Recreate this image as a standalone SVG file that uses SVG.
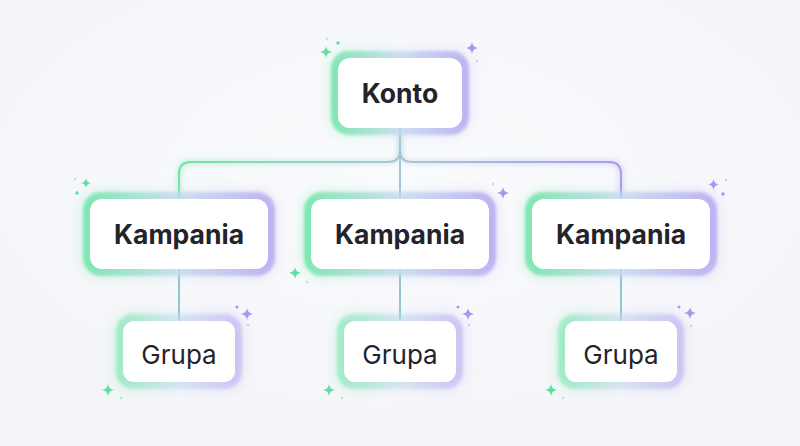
<svg xmlns="http://www.w3.org/2000/svg" width="800" height="446" viewBox="0 0 800 446">
<defs>
<linearGradient id="gb" x1="0" y1="0" x2="1" y2="0">
<stop offset="0" stop-color="#62e3a0"/>
<stop offset="0.5" stop-color="#c4d9ee"/>
<stop offset="1" stop-color="#b0a2f0"/>
</linearGradient>
<linearGradient id="gl" gradientUnits="userSpaceOnUse" x1="179" y1="0" x2="621" y2="0">
<stop offset="0" stop-color="#6fe3a8"/>
<stop offset="0.5" stop-color="#a6c7d6"/>
<stop offset="1" stop-color="#a79bef"/>
</linearGradient>
<radialGradient id="bg" cx="0.5" cy="0.4" r="0.7">
<stop offset="0" stop-color="#fafbfd"/>
<stop offset="1" stop-color="#f3f4f8"/>
</radialGradient>
<filter id="glow" x="-40%" y="-40%" width="180%" height="180%"><feGaussianBlur stdDeviation="7"/></filter>
<filter id="soft" x="-20%" y="-20%" width="140%" height="140%"><feGaussianBlur stdDeviation="1.8"/></filter>
<filter id="lglow" x="-20%" y="-20%" width="140%" height="140%"><feGaussianBlur stdDeviation="2.5"/></filter>
<symbol id="star" viewBox="-5 -5 10 10" overflow="visible">
<path d="M0,-5 Q0.6,-0.6 5,0 Q0.6,0.6 0,5 Q-0.6,0.6 -5,0 Q-0.6,-0.6 0,-5Z"/>
</symbol>
</defs>
<style>
.glow{opacity:0.35}
.band{opacity:0.75}
.box{fill:#ffffff}
.t{font-family:Inter,"Noto Sans","Liberation Sans",sans-serif;fill:#23232b;text-anchor:middle}
.b{font-weight:700;font-size:26.5px}
.r{font-weight:400;font-size:26px}
.ln{fill:none;stroke-width:2;stroke-linecap:round}
.lg{fill:none;stroke-width:5;opacity:0.35}
.sg{fill:#5fe0a0}
.sp{fill:#a598ee}
.fa{opacity:0.45}
</style>
<rect width="800" height="446" fill="url(#bg)"/>

<g id="connectors">
<g filter="url(#lglow)">
<path class="lg" stroke="url(#gl)" d="M400,128 V150 Q400,162 388,162 H191 Q179,162 179,174 V199"/>
<path class="lg" stroke="url(#gl)" d="M400,128 V150 Q400,162 412,162 H609 Q621,162 621,174 V199"/>
</g>
<path class="ln" stroke="url(#gl)" d="M400,128 V150 Q400,162 388,162 H191 Q179,162 179,174 V199"/>
<path class="ln" stroke="url(#gl)" d="M400,128 V150 Q400,162 412,162 H609 Q621,162 621,174 V199"/>
<path class="ln" stroke="#a2c6d3" d="M400,150 V199"/>
<path class="ln" stroke="#92c5cc" d="M179,269 V321 M400,269 V321 M621,269 V321"/>
</g>

<g id="sparkles">
<use href="#star" x="320" y="46" width="12" height="12" class="sg"/>
<circle cx="338" cy="43" r="1.7" class="sg"/>
<circle cx="327" cy="39" r="1.2" class="sg fa"/>
<use href="#star" x="466" y="42" width="12" height="12" class="sp"/>
<circle cx="477" cy="61" r="1.2" class="sp fa"/>
<use href="#star" x="81" y="178" width="10" height="10" class="sg"/>
<circle cx="77" cy="193" r="1.7" class="sg"/>
<circle cx="75" cy="179" r="1.2" class="sg fa"/>
<use href="#star" x="289" y="267" width="12" height="12" class="sg"/>
<circle cx="307" cy="282" r="1.3" class="sg fa"/>
<use href="#star" x="497" y="187" width="12" height="12" class="sp"/>
<circle cx="493" cy="184" r="1.2" class="sp fa"/>
<use href="#star" x="708" y="179" width="11" height="11" class="sp"/>
<circle cx="723" cy="194" r="1.7" class="sp"/>
<circle cx="726" cy="180" r="1.2" class="sp fa"/>
<use href="#star" x="241" y="308" width="12" height="12" class="sp"/>
<circle cx="237" cy="307" r="1.5" class="sp"/>
<circle cx="248" cy="325" r="1.2" class="sp fa"/>
<use href="#star" x="102" y="384" width="12" height="12" class="sg"/>
<circle cx="121" cy="398" r="1.3" class="sg fa"/>
<use href="#star" x="462" y="308" width="12" height="12" class="sp"/>
<circle cx="458" cy="307" r="1.5" class="sp"/>
<circle cx="469" cy="325" r="1.2" class="sp fa"/>
<use href="#star" x="323" y="384" width="12" height="12" class="sg"/>
<circle cx="342" cy="398" r="1.3" class="sg fa"/>
<use href="#star" x="684" y="307" width="12" height="12" class="sp"/>
<circle cx="679" cy="307" r="1.5" class="sp"/>
<circle cx="691" cy="326" r="1.2" class="sp fa"/>
<use href="#star" x="545" y="384" width="12" height="12" class="sg"/>
<circle cx="563" cy="398" r="1.3" class="sg fa"/>
</g>

<g id="konto">
<rect x="331" y="51" width="138" height="84" rx="18" fill="url(#gb)" class="glow" filter="url(#glow)"/>
<rect x="331" y="51" width="138" height="84" rx="18" fill="url(#gb)" class="band" filter="url(#soft)"/>
<rect x="338" y="58" width="124" height="70" rx="12" class="box"/>
<text x="400" y="103" class="t b">Konto</text>
</g>

<g id="kampania-1">
<rect x="83" y="192" width="192" height="84" rx="18" fill="url(#gb)" class="glow" filter="url(#glow)"/>
<rect x="83" y="192" width="192" height="84" rx="18" fill="url(#gb)" class="band" filter="url(#soft)"/>
<rect x="90" y="199" width="178" height="70" rx="12" class="box"/>
<text x="179" y="244" class="t b">Kampania</text>
</g>

<g id="kampania-2">
<rect x="304" y="192" width="192" height="84" rx="18" fill="url(#gb)" class="glow" filter="url(#glow)"/>
<rect x="304" y="192" width="192" height="84" rx="18" fill="url(#gb)" class="band" filter="url(#soft)"/>
<rect x="311" y="199" width="178" height="70" rx="12" class="box"/>
<text x="400" y="244" class="t b">Kampania</text>
</g>

<g id="kampania-3">
<rect x="525" y="192" width="192" height="84" rx="18" fill="url(#gb)" class="glow" filter="url(#glow)"/>
<rect x="525" y="192" width="192" height="84" rx="18" fill="url(#gb)" class="band" filter="url(#soft)"/>
<rect x="532" y="199" width="178" height="70" rx="12" class="box"/>
<text x="621" y="244" class="t b">Kampania</text>
</g>

<g id="grupa-1">
<rect x="116" y="314" width="126" height="75" rx="17" fill="url(#gb)" class="glow" filter="url(#glow)"/>
<rect x="116" y="314" width="126" height="75" rx="17" fill="url(#gb)" opacity="0.45" filter="url(#soft)"/>
<rect x="123" y="321" width="112" height="61" rx="11" class="box"/>
<text x="179" y="364" class="t r">Grupa</text>
</g>

<g id="grupa-2">
<rect x="337" y="314" width="126" height="75" rx="17" fill="url(#gb)" class="glow" filter="url(#glow)"/>
<rect x="337" y="314" width="126" height="75" rx="17" fill="url(#gb)" opacity="0.45" filter="url(#soft)"/>
<rect x="344" y="321" width="112" height="61" rx="11" class="box"/>
<text x="400" y="364" class="t r">Grupa</text>
</g>

<g id="grupa-3">
<rect x="558" y="314" width="126" height="75" rx="17" fill="url(#gb)" class="glow" filter="url(#glow)"/>
<rect x="558" y="314" width="126" height="75" rx="17" fill="url(#gb)" opacity="0.45" filter="url(#soft)"/>
<rect x="565" y="321" width="112" height="61" rx="11" class="box"/>
<text x="621" y="364" class="t r">Grupa</text>
</g>
</svg>
